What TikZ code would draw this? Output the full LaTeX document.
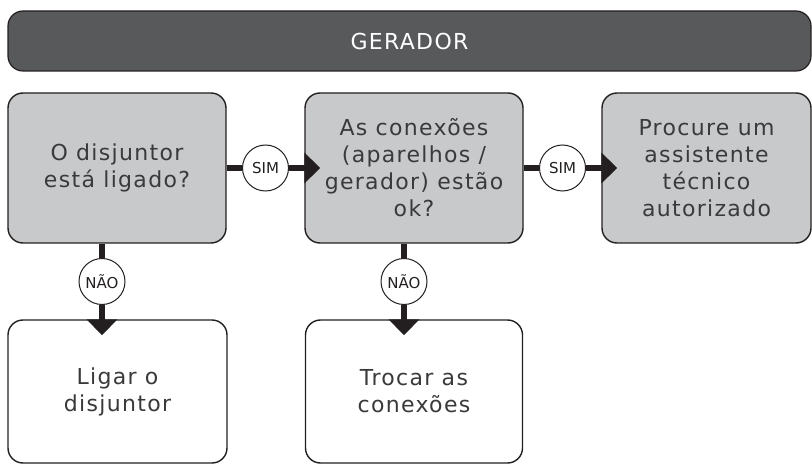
\documentclass[tikz,border=0pt]{standalone}
\usepackage{fontspec}
\setmainfont{DejaVu Sans}
\newfontfamily\widefont[LetterSpace=6]{DejaVu Sans}
\usetikzlibrary{arrows.meta}

\definecolor{boxgray}{HTML}{C8C9CB}
\definecolor{headgray}{HTML}{58595B}
\definecolor{inkgray}{HTML}{3A3A3A}
\definecolor{edgegray}{HTML}{231F20}

\begin{document}
\begin{tikzpicture}[x=1pt, y=-1pt,
    stepbox/.style={draw=edgegray, line width=1.4pt, rounded corners=15pt,
                    inner sep=0pt, align=center, text=inkgray,
                    font=\widefont\fontsize{22}{27}\selectfont},
    askbox/.style={stepbox, fill=boxgray},
    endbox/.style={stepbox, fill=white},
    answer/.style={circle, draw=edgegray, line width=1pt, fill=white,
                   minimum size=46pt, inner sep=0pt, text=edgegray,
                   font=\fontsize{15}{17}\selectfont},
    link/.style={draw=edgegray, line width=6pt},
    linkto/.style={link, -{Triangle[width=30pt,length=16pt]}, shorten >=-16pt}]
    \useasboundingbox (0,0) rectangle (812,465);

    % header
    \node[draw=edgegray, line width=1.2pt, fill=headgray, rounded corners=15pt,
          minimum width=803pt, minimum height=60pt, text=white,
          font=\widefont\fontsize{22}{26}\selectfont] (head) at (409.5,41) {GERADOR};

    % question boxes
    \node[askbox, minimum width=218pt, minimum height=150pt] (disj) at (117,168)
        {O disjuntor\\está ligado?};
    \node[askbox, minimum width=218pt, minimum height=150pt] (conex) at (414,168)
        {As conexões\\(aparelhos /\\gerador) estão\\ok?};
    \node[askbox, minimum width=209pt, minimum height=150pt] (assist) at (706.5,168)
        {Procure um\\assistente\\técnico\\autorizado};

    % action boxes
    \node[endbox, minimum width=219pt, minimum height=143pt] (ligar) at (117.5,391.5)
        {Ligar o\\disjuntor};
    \node[endbox, minimum width=217pt, minimum height=143pt] (trocar) at (414,391.5)
        {Trocar as\\conexões};

    % answers
    \node[answer] (sim1) at (265.5,168) {SIM};
    \node[answer] (sim2) at (562.5,168) {SIM};
    \node[answer] (nao1) at (102,281.5) {NÃO};
    \node[answer] (nao2) at (404,281.5) {NÃO};

    % connectors
    \draw[link] (disj) -- (sim1);
    \draw[linkto] (sim1) -- (conex);
    \draw[link] (conex) -- (sim2);
    \draw[linkto] (sim2) -- (assist);
    \draw[link] (nao1 |- disj.south) -- (nao1);
    \draw[linkto] (nao1) -- (nao1 |- ligar.north);
    \draw[link] (nao2 |- conex.south) -- (nao2);
    \draw[linkto] (nao2) -- (nao2 |- trocar.north);
\end{tikzpicture}
\end{document}
